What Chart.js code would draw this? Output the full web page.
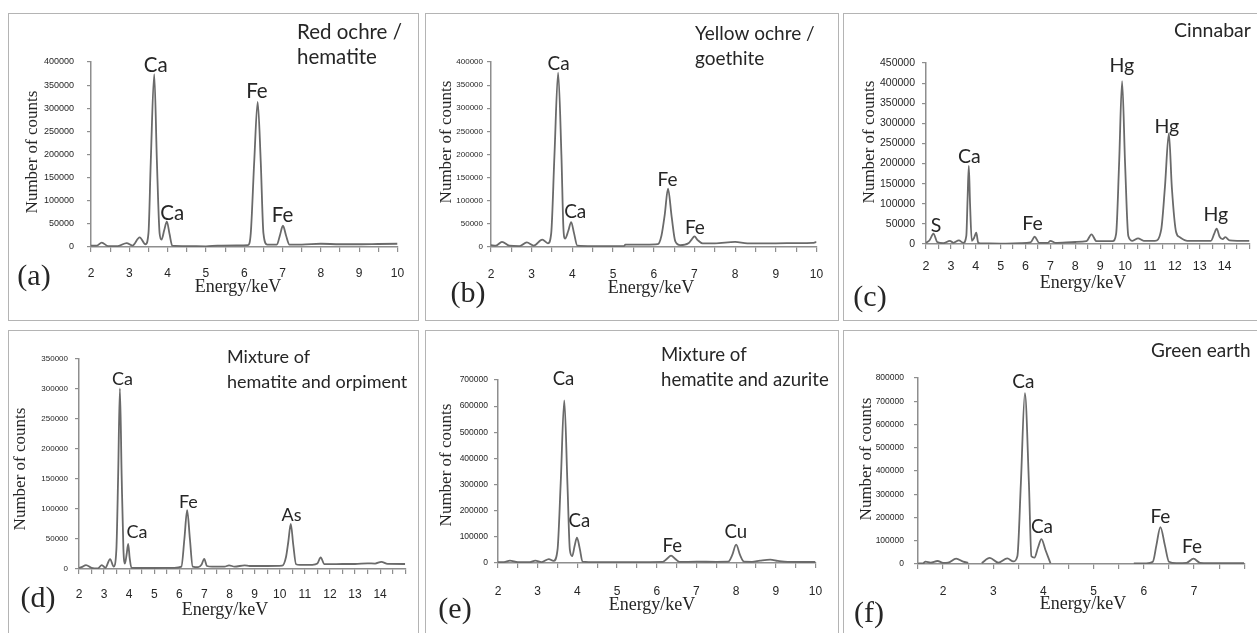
<!DOCTYPE html>
<html>
<head>
<meta charset="utf-8">
<title>EDXRF spectra of pigments</title>
<script src="https://cdn.jsdelivr.net/npm/chart.js@4.4.1/dist/chart.umd.min.js"></script>
<style>
  html, body { margin: 0; padding: 0; background: #fff; overflow: hidden; }
  body { width: 1257px; height: 633px; position: relative; }
  .panel { position: absolute; border: 1px solid #b4b4b4; box-sizing: border-box; }
  canvas { position: absolute; }
</style>
</head>
<body>
<script>
// ---- spectra (energy in keV, number of counts) ----

// (a) red ochre / hematite
const energy_a = [2.0, 2.15, 2.28, 2.45, 2.7, 2.93, 3.08, 3.27, 3.42, 3.5, 3.56, 3.65, 3.72, 3.79, 3.84, 3.91, 3.98, 4.05, 4.12, 4.5, 5.0, 5.3, 5.8, 6.1, 6.17, 6.26, 6.35, 6.43, 6.5, 6.6, 6.85, 6.93, 7.01, 7.09, 7.18, 7.5, 8.0, 8.5, 9.0, 9.5, 10.0];
const counts_a = [3000, 3000, 9500, 2000, 2000, 8500, 3000, 21000, 6000, 30000, 185000, 374000, 185000, 30000, 16000, 36000, 55000, 28000, 3000, 2000, 1500, 3000, 3500, 4000, 30000, 185000, 314000, 185000, 30000, 5000, 5000, 25000, 46000, 25000, 5000, 5000, 7000, 6000, 6000, 6500, 7000];
const xLabels_a = [2, 3, 4, 5, 6, 7, 8, 9, 10];
const title_a = ['Red ochre /', 'hematite'];
const peakNames_a = ['Ca', 'Ca', 'Fe', 'Fe'];
const peakKeV_a = [3.69, 4.12, 6.33, 7.0];
const peakCounts_a = [393000, 73000, 338000, 69000];

// (b) yellow ochre / goethite
const energy_b = [2.0, 2.12, 2.27, 2.45, 2.7, 2.88, 3.05, 3.26, 3.4, 3.48, 3.56, 3.65, 3.73, 3.78, 3.82, 3.9, 3.97, 4.04, 4.12, 4.5, 5.0, 5.27, 5.3, 5.8, 6.1, 6.19, 6.27, 6.35, 6.44, 6.53, 6.65, 6.85, 6.93, 7.0, 7.08, 7.2, 7.5, 8.0, 8.3, 9.0, 9.5, 9.9, 10.0];
const counts_b = [4000, 3000, 11000, 3000, 2000, 10000, 3000, 16000, 8000, 30000, 200000, 377000, 200000, 40000, 18000, 35000, 54000, 30000, 3000, 2000, 2000, 2000, 5000, 5000, 6000, 25000, 70000, 126000, 65000, 12000, 4000, 8000, 16000, 23000, 15000, 8000, 8000, 11000, 8000, 8000, 8500, 9000, 11000];
const xLabels_b = [2, 3, 4, 5, 6, 7, 8, 9, 10];
const title_b = ['Yellow ochre /', 'goethite'];
const peakNames_b = ['Ca', 'Ca', 'Fe', 'Fe'];
const peakKeV_b = [3.66, 4.07, 6.34, 7.01];
const peakCounts_b = [398000, 78000, 148000, 43000];

// (c) cinnabar
const energy_c = [2.0, 2.15, 2.3, 2.45, 2.7, 2.96, 3.1, 3.32, 3.5, 3.62, 3.67, 3.72, 3.77, 3.84, 3.93, 4.02, 4.1, 4.3, 5.0, 5.8, 6.2, 6.37, 6.55, 6.9, 7.0, 7.2, 8.0, 8.45, 8.65, 8.85, 9.5, 9.64, 9.76, 9.88, 10.0, 10.13, 10.3, 10.52, 10.75, 11.2, 11.45, 11.6, 11.76, 11.88, 12.05, 12.2, 12.5, 13.45, 13.58, 13.68, 13.8, 13.92, 14.03, 14.2, 14.5, 15.0];
const counts_c = [3000, 10000, 26000, 5000, 2000, 8000, 3000, 9000, 3000, 20000, 110000, 194000, 100000, 8000, 15000, 28000, 3000, 1500, 1000, 2000, 4000, 18000, 3000, 3000, 8000, 3000, 5000, 7000, 24000, 7000, 7000, 25000, 200000, 405000, 200000, 20000, 8000, 14000, 8000, 8000, 35000, 140000, 275000, 140000, 30000, 17000, 8000, 8000, 25000, 38000, 18000, 12000, 17000, 9000, 8000, 8000];
const xLabels_c = [2, 3, 4, 5, 6, 7, 8, 9, 10, 11, 12, 13, 14];
const title_c = ['Cinnabar'];
const peakNames_c = ['S', 'Ca', 'Fe', 'Hg', 'Hg', 'Hg'];
const peakKeV_c = [2.4, 3.74, 6.28, 9.87, 11.68, 13.65];
const peakCounts_c = [47000, 218000, 53000, 444000, 293000, 74000];

// (d) mixture of hematite and orpiment
const energy_d = [2.0, 2.1, 2.28, 2.5, 2.75, 2.91, 3.05, 3.24, 3.38, 3.49, 3.56, 3.63, 3.7, 3.77, 3.83, 3.9, 3.96, 4.02, 4.09, 4.5, 5.0, 5.8, 6.08, 6.2, 6.31, 6.42, 6.53, 6.75, 6.88, 6.99, 7.1, 7.3, 7.8, 7.98, 8.2, 8.6, 8.8, 9.5, 10.1, 10.25, 10.34, 10.44, 10.54, 10.65, 10.8, 11.3, 11.5, 11.63, 11.78, 12.0, 12.5, 13.0, 13.5, 13.8, 14.05, 14.3, 15.0];
const counts_d = [2000, 3000, 6600, 2000, 1000, 6600, 2000, 16600, 4000, 33000, 155000, 301000, 155000, 33000, 9000, 25000, 42000, 18000, 2000, 1700, 1700, 2000, 4000, 50000, 98000, 50000, 4000, 3000, 7000, 17000, 5000, 3800, 4000, 6000, 4000, 6000, 5000, 5000, 5500, 20000, 45000, 75000, 40000, 8000, 7000, 7000, 9000, 19300, 8000, 8000, 8300, 8300, 9500, 9000, 12000, 8500, 8300];
const xLabels_d = [2, 3, 4, 5, 6, 7, 8, 9, 10, 11, 12, 13, 14];
const title_d = ['Mixture of', 'hematite and orpiment'];
const peakNames_d = ['Ca', 'Ca', 'Fe', 'As'];
const peakKeV_d = [3.73, 4.31, 6.36, 10.47];
const peakCounts_d = [318000, 64000, 113000, 92000];

// (e) mixture of hematite and azurite
const energy_e = [2.0, 2.15, 2.3, 2.5, 2.8, 2.94, 3.1, 3.28, 3.4, 3.5, 3.58, 3.67, 3.75, 3.81, 3.87, 3.93, 3.99, 4.06, 4.13, 4.5, 5.0, 5.8, 6.15, 6.25, 6.36, 6.47, 6.57, 7.0, 7.5, 7.8, 7.9, 8.0, 8.1, 8.2, 8.4, 8.6, 8.86, 9.05, 9.3, 10.0];
const counts_e = [3500, 3500, 9000, 3000, 3000, 9000, 3500, 15000, 8000, 51000, 307000, 622000, 300000, 51000, 26000, 65000, 97000, 55000, 5000, 3000, 3000, 3500, 4000, 15000, 28000, 15000, 4000, 5000, 4500, 5000, 30000, 70000, 30000, 5000, 4500, 9000, 13000, 8000, 4000, 3800];
const xLabels_e = [2, 3, 4, 5, 6, 7, 8, 9, 10];
const title_e = ['Mixture of', 'hematite and azurite'];
const peakNames_e = ['Ca', 'Ca', 'Fe', 'Cu'];
const peakKeV_e = [3.65, 4.05, 6.39, 7.99];
const peakCounts_e = [706000, 164000, 67000, 122000];

// (f) green earth (the trace has two breaks)
const energy_f = [1.5, 1.6, 1.65, 1.75, 1.89, 2.0, 2.1, 2.26, 2.4, 2.5, 2.6, 2.77, 2.93, 3.1, 3.28, 3.4, 3.48, 3.55, 3.63, 3.71, 3.76, 3.82, 3.89, 3.96, 4.04, 4.14, 5.0, 5.8, 5.93, 6.05, 6.18, 6.25, 6.33, 6.42, 6.5, 6.65, 6.85, 6.99, 7.12, 7.3, 8.0];
const counts_f = [2000, 3000, 10000, 6000, 13000, 5000, 6000, 23000, 10000, 5000, null, 4000, 26000, 6000, 24000, 11000, 33000, 348000, 735000, 348000, 33000, 27000, 70000, 107000, 60000, 3000, null, 3000, 3000, 3000, 10000, 80000, 159000, 80000, 10000, 4000, 5000, 23000, 5000, 4000, 4000];
const xLabels_f = [2, 3, 4, 5, 6, 7];
const title_f = ['Green earth'];
const peakNames_f = ['Ca', 'Ca', 'Fe', 'Fe'];
const peakKeV_f = [3.6, 3.97, 6.33, 6.96];
const peakCounts_f = [786000, 165000, 205000, 76000];

// ---- look ----
const AXIS_GREY = '#8e8e8e';
const LINE_GREY = '#6a6a6a';
const INK = '#262626';
const SANS = '"Liberation Sans", Arial, sans-serif';
const SERIF = '"Liberation Serif", "Times New Roman", serif';
const LABEL_FAMILY = 'Lato, "Open Sans", sans-serif';

// page positions: box = [left, top, width, height], area = plot rectangle [left, top, right, bottom]
const panels = [
  { letter: '(a)', energy: energy_a, counts: counts_a, xLabels: xLabels_a, title: title_a,
    peaks: peakNames_a, peakKeV: peakKeV_a, peakCounts: peakCounts_a,
    xMin: 2, xMax: 10, yMax: 400000, yStep: 50000,
    box: [8, 13, 411, 308], area: [91, 62, 402, 247], labelSize: 20.5,
    yFont: { family: SANS, size: 9 }, yGap: 17, xFont: { family: SANS, size: 12 }, xDrop: 27,
    yTitleAt: [33, 152], xTitleAt: [238, 287], letterAt: [34, 277], titleAt: [297, 39, 64] },
  { letter: '(b)', energy: energy_b, counts: counts_b, xLabels: xLabels_b, title: title_b,
    peaks: peakNames_b, peakKeV: peakKeV_b, peakCounts: peakCounts_b,
    xMin: 2, xMax: 10, yMax: 400000, yStep: 50000,
    box: [425, 13, 414, 308], area: [491, 62, 823, 247], labelSize: 19,
    yFont: { family: SANS, size: 8 }, yGap: 8, xFont: { family: SANS, size: 12 }, xDrop: 28,
    yTitleAt: [447, 142], xTitleAt: [651, 288], letterAt: [468, 294], titleAt: [695, 40, 65] },
  { letter: '(c)', energy: energy_c, counts: counts_c, xLabels: xLabels_c, title: title_c,
    peaks: peakNames_c, peakKeV: peakKeV_c, peakCounts: peakCounts_c,
    xMin: 2, xMax: 15, yMax: 450000, yStep: 50000,
    box: [843, 13, 417, 308], area: [926, 63, 1254, 244], labelSize: 19.5,
    yFont: { family: SANS, size: 10.5 }, yGap: 11, xFont: { family: SANS, size: 12.5 }, xDrop: 23,
    yTitleAt: [870, 142], xTitleAt: [1083, 283], letterAt: [870, 298], titleAt: [1174, 37] },
  { letter: '(d)', energy: energy_d, counts: counts_d, xLabels: xLabels_d, title: title_d,
    peaks: peakNames_d, peakKeV: peakKeV_d, peakCounts: peakCounts_d,
    xMin: 2, xMax: 15, yMax: 350000, yStep: 50000,
    box: [8, 330, 411, 310], area: [79, 359, 407, 569], labelSize: 18,
    yFont: { family: SANS, size: 8 }, yGap: 11, xFont: { family: SANS, size: 12 }, xDrop: 26,
    yTitleAt: [21, 469], xTitleAt: [225, 610], letterAt: [38, 599], titleAt: [227, 363, 388] },
  { letter: '(e)', energy: energy_e, counts: counts_e, xLabels: xLabels_e, title: title_e,
    peaks: peakNames_e, peakKeV: peakKeV_e, peakCounts: peakCounts_e,
    xMin: 2, xMax: 10, yMax: 700000, yStep: 100000,
    box: [425, 330, 414, 310], area: [498, 380, 823, 563], labelSize: 18.6,
    yFont: { family: SANS, size: 8.5 }, yGap: 10, xFont: { family: SANS, size: 12 }, xDrop: 29,
    yTitleAt: [447, 465], xTitleAt: [652, 605], letterAt: [455, 610], titleAt: [661, 361, 386] },
  { letter: '(f)', energy: energy_f, counts: counts_f, xLabels: xLabels_f, title: title_f,
    peaks: peakNames_f, peakKeV: peakKeV_f, peakCounts: peakCounts_f,
    xMin: 1.5, xMax: 8, yMax: 800000, yStep: 100000,
    box: [843, 330, 417, 310], area: [918, 378, 1256, 564], labelSize: 19,
    yFont: { family: SANS, size: 8.5 }, yGap: 14, xFont: { family: SANS, size: 12 }, xDrop: 28,
    yTitleAt: [867, 459], xTitleAt: [1083, 604], letterAt: [869, 614], titleAt: [1151, 357] }
];

const X_TICK = 5;
const Y_TICK = 4;

// titles, panel letters and peak labels
const panelText = {
  id: 'panelText',
  afterDraw(chart, args, opts) {
    const p = opts.panel;
    const ctx = chart.ctx;
    const bx = p.box[0], by = p.box[1];
    const xs = chart.scales.x, ys = chart.scales.y;
    ctx.save();
    ctx.fillStyle = INK;

    ctx.font = p.labelSize + 'px ' + LABEL_FAMILY;
    ctx.textAlign = 'center';
    ctx.textBaseline = 'alphabetic';
    p.peaks.forEach((name, i) => {
      ctx.fillText(name, xs.getPixelForValue(p.peakKeV[i]), ys.getPixelForValue(p.peakCounts[i]) + 7);
    });

    ctx.textAlign = 'left';
    p.title.forEach((line, i) => ctx.fillText(line, p.titleAt[0] - bx, p.titleAt[i + 1] - by));

    ctx.textAlign = 'center';
    ctx.textBaseline = 'middle';
    ctx.font = '18px ' + SERIF;
    ctx.fillText('Energy/keV', p.xTitleAt[0] - bx, p.xTitleAt[1] - by);

    ctx.font = '30px ' + SERIF;
    ctx.fillText(p.letter, p.letterAt[0] - bx, p.letterAt[1] - by);

    ctx.save();
    ctx.translate(p.yTitleAt[0] - bx, p.yTitleAt[1] - by);
    ctx.rotate(-Math.PI / 2);
    ctx.font = '17px ' + SERIF;
    ctx.fillText('Number of counts', 0, 0);
    ctx.restore();

    ctx.restore();
  }
};

const drawPanel = (p) => {
  const [bx, by, bw, bh] = p.box;
  const [al, at, ar, ab] = p.area;

  const frame = document.createElement('div');
  frame.className = 'panel';
  frame.style.left = bx + 'px';
  frame.style.top = by + 'px';
  frame.style.width = bw + 'px';
  frame.style.height = bh + 'px';
  document.body.appendChild(frame);

  const canvas = document.createElement('canvas');
  canvas.width = bw;
  canvas.height = bh;
  canvas.style.left = bx + 'px';
  canvas.style.top = by + 'px';
  document.body.appendChild(canvas);

  const yWidth = al - bx;
  const xHeight = by + bh - ab;
  const xPad = p.xDrop - X_TICK - p.xFont.size * 0.6;

  new Chart(canvas, {
    type: 'line',
    data: {
      datasets: [{
        data: p.energy.map((e, i) => ({ x: e, y: p.counts[i] })),
        borderColor: LINE_GREY,
        borderWidth: 1.8,
        pointRadius: 0,
        cubicInterpolationMode: 'monotone',
        spanGaps: false,
        fill: false
      }]
    },
    options: {
      responsive: false,
      animation: false,
      devicePixelRatio: 1,
      layout: { padding: { left: 0, top: at - by, right: bx + bw - ar, bottom: 0 } },
      plugins: {
        legend: { display: false },
        tooltip: { enabled: false },
        panelText: { panel: p }
      },
      scales: {
        x: {
          type: 'linear',
          min: p.xMin,
          max: p.xMax,
          afterFit: (s) => { s.height = xHeight; },
          border: { display: true, color: AXIS_GREY, width: 1.5 },
          grid: { drawOnChartArea: false, drawTicks: true, tickLength: X_TICK, color: AXIS_GREY, lineWidth: 1.2 },
          ticks: {
            stepSize: 0.5,
            autoSkip: false,
            maxRotation: 0,
            padding: xPad,
            color: INK,
            font: p.xFont,
            callback: (v) => {
              const r = Math.round(v);
              return (Math.abs(v - r) < 1e-6 && p.xLabels.includes(r)) ? String(r) : '';
            }
          }
        },
        y: {
          min: 0,
          max: p.yMax,
          afterFit: (s) => { s.width = yWidth; },
          border: { display: true, color: AXIS_GREY, width: 1.5 },
          grid: { drawOnChartArea: false, drawTicks: true, tickLength: Y_TICK, color: AXIS_GREY, lineWidth: 1.2 },
          ticks: {
            stepSize: p.yStep,
            autoSkip: false,
            padding: p.yGap - Y_TICK,
            color: INK,
            font: p.yFont,
            callback: (v) => String(v)
          }
        }
      }
    },
    plugins: [panelText]
  });
};

panels.forEach(drawPanel);
</script>
</body>
</html>
